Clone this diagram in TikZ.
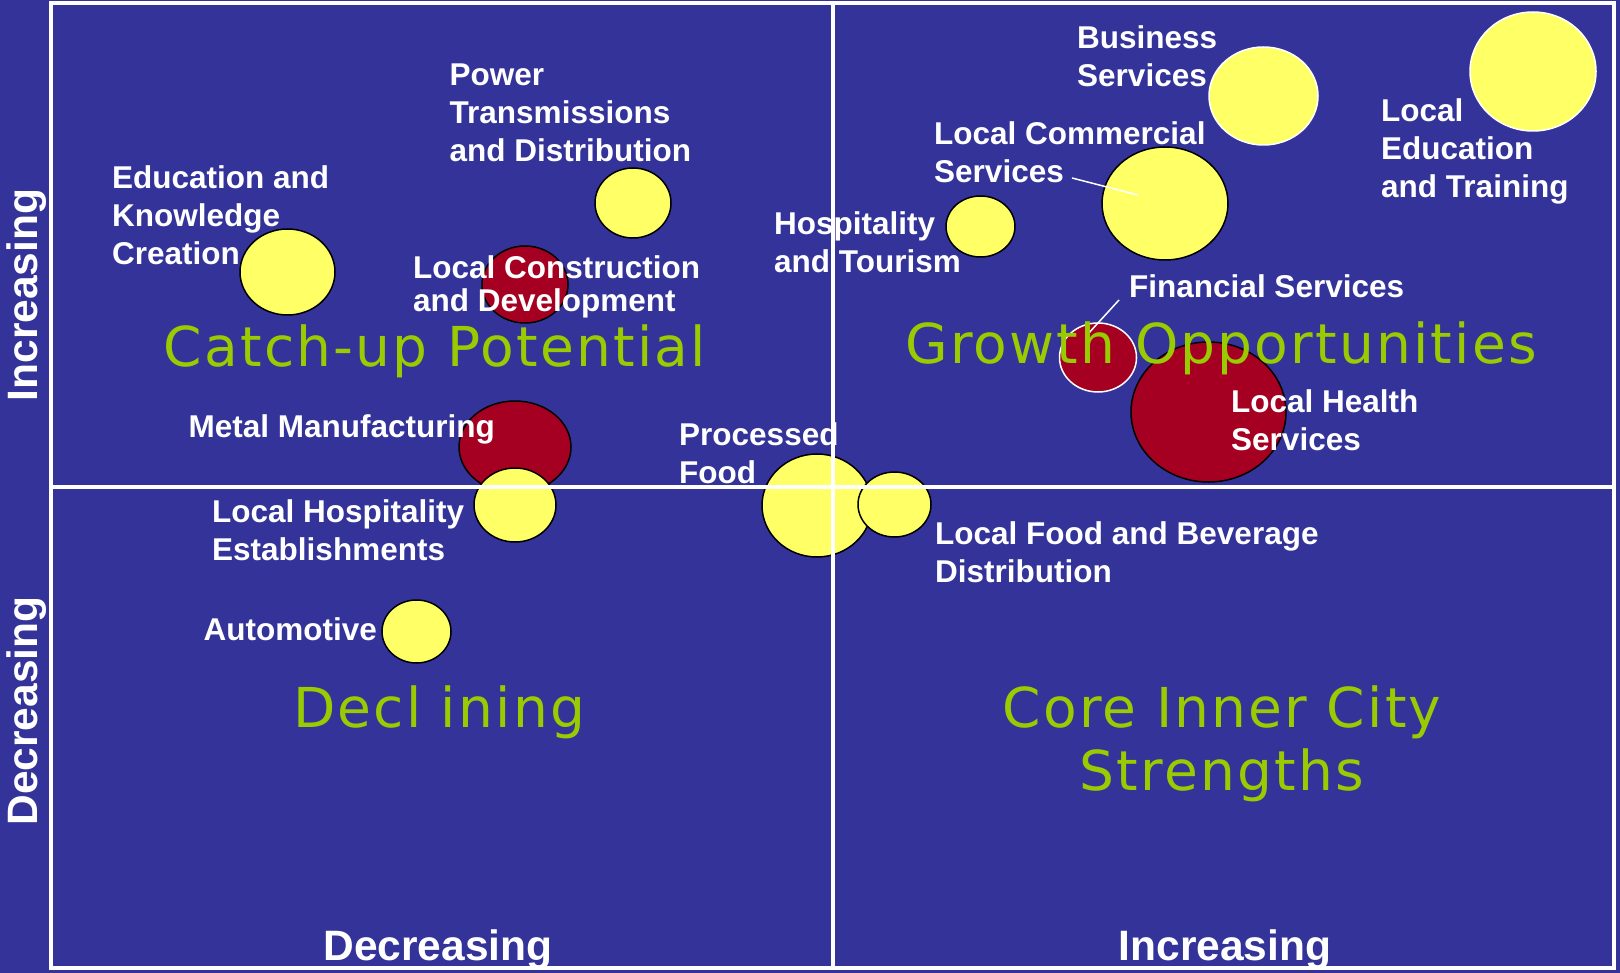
\documentclass[tikz,border=0pt]{standalone}
\usepackage{fontspec}
\setmainfont{Liberation Sans}
\newfontfamily\quadfont[LetterSpace=4]{DejaVu Sans}
\usepackage{tikz}
\usetikzlibrary{shapes.geometric,positioning}
\definecolor{plotblue}{HTML}{333399}
\definecolor{bubyellow}{HTML}{FFFF66}
\definecolor{bubred}{HTML}{A50021}
\definecolor{quadgreen}{HTML}{99CC00}

\begin{document}
\begin{tikzpicture}[x=1pt,y=-1pt,
        bubble/.style={ellipse, draw=black, line width=1.5pt, inner sep=0pt},
        lbl/.style={white, font=\bfseries\fontsize{31.5}{38}\selectfont, align=left, anchor=base west, inner sep=0pt},
        quad/.style={quadgreen, font=\quadfont\fontsize{55}{63}\selectfont, align=center, anchor=base, inner sep=0pt},
        axislbl/.style={white, font=\bfseries\fontsize{42.5}{50}\selectfont, anchor=base, inner sep=0pt},
        leader/.style={white, line width=1.5pt}]
        \useasboundingbox[fill=plotblue] (0,0) rectangle (1620,973);
        \foreach \name/\x/\y/\rx/\ry/\c/\d in {edu/287.5/272/47.5/43/bubyellow/black, power/633/203/38/35/bubyellow/black,
            constr/525/284.5/43/38.5/bubred/black, metal/515/447/56/46/bubred/black, lhosp/515/505/41/37/bubyellow/black,
            procfood/817/505.5/55/51.5/bubyellow/black, lfood/894.5/504.5/36.5/32.5/bubyellow/black, auto/416.5/631.5/34.5/31.5/bubyellow/black,
            business/1263.5/96/54.5/49/bubyellow/white, ledu/1533/71.5/63/59.5/bubyellow/white, commercial/1165/203.5/63/56.5/bubyellow/black,
            tourism/980.5/226.5/34.5/30.5/bubyellow/black, health/1208.5/412/77.5/70/bubred/black, financial/1098/357.5/38.5/34.5/bubred/white}
            {\node[bubble, fill=\c, draw=\d, minimum width=2*\rx, minimum height=2*\ry] (\name) at (\x,\y) {};}
        \draw[white, line width=3.5pt] (51,3) rectangle (1614,968);
        \draw[white, line width=4pt] (833,3) -- (833,968) (51,487) -- (1614,487);
        \node[lbl] (edulbl) at (112,265) {Education and\\Knowledge\\Creation};
        \node[lbl] (powerlbl) at (449.5,162) {Power\\Transmissions\\and Distribution};
        \node[lbl] (constrlbl) at (413,312) {Local Construction\\[-5pt]and Development};
        \node[lbl] (metallbl) at (188.5,437) {Metal Manufacturing};
        \node[lbl] (proclbl) at (679,483) {Processed\\Food};
        \node[lbl] (lhosplbl) at (212,560) {Local Hospitality\\Establishments};
        \node[lbl] (autolbl) at (203.5,640) {Automotive};
        \node[lbl] (lfoodlbl) at (935,582) {Local Food and Beverage\\Distribution};
        \node[lbl] (businesslbl) at (1077,87) {Business\\Services};
        \node[lbl] (commerciallbl) at (934,183) {Local Commercial\\Services};
        \node[lbl] (ledulbl) at (1381,198) {Local\\Education\\and Training};
        \node[lbl] (tourismlbl) at (774,273) {Hospitality\\and Tourism};
        \node[lbl] (financiallbl) at (1129,298) {Financial Services};
        \node[lbl] (healthlbl) at (1231,450) {Local Health\\Services};
        \coordinate (commfoot) at (1072,178);
        \coordinate (commtip) at (1138,195);
        \coordinate (finfoot) at (1119,300);
        \coordinate (fintip) at (1087,335);
        \draw[leader] (commfoot) -- (commtip);
        \draw[leader] (finfoot) -- (fintip);
        \node[quad] (catchup) at (435,367) {Catch-up Potential};
        \node[quad] (growth) at (1221,364) {Growth Opportunities};
        \node[quad] (declining) at (439,727) {Decl ining};
        \node[quad] (core) at (1222,790) {Core Inner City\\Strengths};
        \node[axislbl] (xdec) at (438,960) {Decreasing};
        \node[axislbl] (xinc) at (1225,960) {Increasing};
        \node[axislbl, rotate=90] (yinc) at (37,295) {Increasing};
        \node[axislbl, rotate=90] (ydec) at (37,711) {Decreasing};
    \end{tikzpicture}
\end{document}
